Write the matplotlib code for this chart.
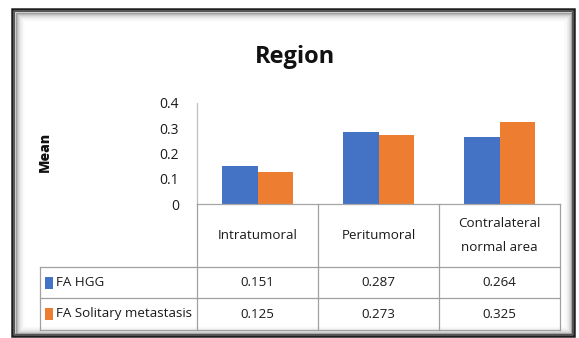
import matplotlib
matplotlib.use("Agg")
import matplotlib.pyplot as plt
from matplotlib.patches import Rectangle
from matplotlib.lines import Line2D
import numpy as np

categories = ["Intratumoral", "Peritumoral", "Contralateral\nnormal area"]
series_names = ["FA HGG", "FA Solitary metastasis"]
fa_hgg = [0.151, 0.287, 0.264]
fa_metastasis = [0.125, 0.273, 0.325]
value_labels_hgg = ["0.151", "0.287", "0.264"]
value_labels_met = ["0.125", "0.273", "0.325"]
yticks = [0, 0.1, 0.2, 0.3, 0.4]
ytick_labels = ["0", "0.1", "0.2", "0.3", "0.4"]
colors = ["#4472C4", "#ED7D31"]

W, H = 579, 338
fig = plt.figure(figsize=(W / 100, H / 100), dpi=100)
fig.patch.set_facecolor("white")

FONT = ["Open Sans", "DejaVu Sans"]
TXT = "#1a1a1a"

def fx(px):
    return px / W

def fy(py):
    return 1 - py / H

# Outer frame with inner shadow (drawn first, behind content)
shadow = ["#9a9a9a", "#b5b5b5", "#cacaca", "#dadada", "#e6e6e6", "#eeeeee", "#f4f4f4", "#f9f9f9"]
for k, c in enumerate(shadow):
    o = 15.5 + k
    fig.add_artist(Rectangle((fx(o), fy(333.5 - k)), fx(571.5 - k - o), (333.5 - k - (10.5 + k + 2)) / H,
                             transform=fig.transFigure, facecolor="none", edgecolor=c, lw=1.0))
fig.add_artist(Rectangle((fx(11.5), fy(336)), fx(574 - 11.5), (336 - 8.5) / H, transform=fig.transFigure,
                         facecolor="none", edgecolor="#1e1e1e", lw=1.8))
fig.add_artist(Rectangle((fx(14), fy(333.5)), fx(571.5 - 14), (333.5 - 11) / H, transform=fig.transFigure,
                         facecolor="none", edgecolor="#555555", lw=1.0))

# chart axes
ax_left, ax_right, ax_top, ax_bottom = 197, 560, 103, 204
ax = fig.add_axes([fx(ax_left), fy(ax_bottom), fx(ax_right - ax_left), (ax_bottom - ax_top) / H])
x = np.arange(len(categories))
bw = 0.29
ax.bar(x - bw / 2, fa_hgg, bw, color=colors[0])
ax.bar(x + bw / 2, fa_metastasis, bw, color=colors[1])
ax.set_xlim(-0.5, len(categories) - 0.5)
ax.set_ylim(0, 0.4)
ax.set_yticks(yticks)
ax.set_yticklabels(ytick_labels, fontsize=10, family=FONT, color=TXT)
ax.tick_params(axis="y", length=0, pad=13)
ax.set_xticks([])
for s in ["top", "right"]:
    ax.spines[s].set_visible(False)
ax.spines["left"].set_color("#BFBFBF")
ax.spines["bottom"].set_color("#A6A6A6")
ax.spines["left"].set_linewidth(0.9)
ax.spines["bottom"].set_linewidth(0.9)
ax.patch.set_alpha(0)

# Title and y label
fig.text(fx(295), fy(63), "Region", ha="center", va="baseline", fontsize=17,
         fontweight="bold", family=FONT, color="#111111")
fig.text(fx(45), fy(152), "Mean", ha="center", va="center", rotation=90, fontsize=10,
         fontweight="heavy", family=FONT, color="#111111")

# Table
line_color = "#A0A0A0"
col_edges = []
for i in range(len(categories) + 1):
    px_x = ax.transData.transform((i - 0.5, 0))[0]
    col_edges.append(px_x / W)
tbl_left = fx(40)
row_y = [fy(204), fy(267), fy(298), fy(330)]

def hline(x0, x1, y):
    fig.add_artist(Line2D([x0, x1], [y, y], transform=fig.transFigure, color=line_color, lw=0.9))

def vline(xv, y0, y1):
    fig.add_artist(Line2D([xv, xv], [y0, y1], transform=fig.transFigure, color=line_color, lw=0.9))

for yv in row_y[1:]:
    hline(tbl_left, col_edges[-1], yv)
vline(tbl_left, row_y[1], row_y[3])
for xv in col_edges:
    vline(xv, row_y[0], row_y[3])

TS = 9.6
for i, cat in enumerate(categories):
    cx = (col_edges[i] + col_edges[i + 1]) / 2
    fig.text(cx, (row_y[0] + row_y[1]) / 2, cat, ha="center", va="center", fontsize=TS,
             family=FONT, color=TXT, linespacing=2.1)
    fig.text(cx, (row_y[1] + row_y[2]) / 2, value_labels_hgg[i], ha="center", va="center",
             fontsize=TS, family=FONT, color=TXT)
    fig.text(cx, (row_y[2] + row_y[3]) / 2, value_labels_met[i], ha="center", va="center",
             fontsize=TS, family=FONT, color=TXT)

for r, (name, c) in enumerate(zip(series_names, colors)):
    yc = (row_y[r + 1] + row_y[r + 2]) / 2
    fig.add_artist(Rectangle((fx(45), yc - 6 / H), 8 / W, 12 / H, transform=fig.transFigure,
                             facecolor=c, edgecolor="none"))
    fig.text(fx(56), yc, name, ha="left", va="center", fontsize=TS, family=FONT, color=TXT)

fig.savefig("out.png", dpi=100, facecolor="white")
